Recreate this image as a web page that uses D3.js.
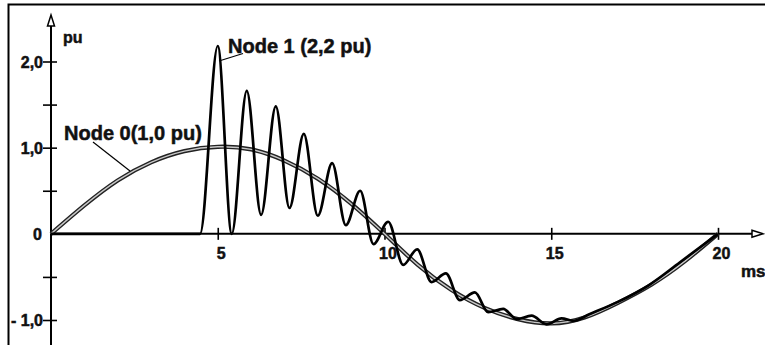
<!DOCTYPE html>
<html>
<head>
<meta charset="utf-8">
<script src="https://cdn.jsdelivr.net/npm/d3@7"></script>
<style>
    body { margin: 0; background: #fff; }
    svg text { font-family: "Liberation Sans", Arial, sans-serif; font-weight: bold; fill: #111;
        stroke: #111; stroke-width: 0.5px; }
</style>
</head>
<body>
<div id="chart"></div>
<script>
// node 0 : the 50 Hz wave (ms, pu)
var node0Ms = [0, 1, 2, 3, 4, 5, 6, 7, 8, 9, 10, 11, 12, 13, 14, 15, 16, 17, 18, 19, 20];
var node0Pu = [0, 0.33, 0.62, 0.83, 0.96, 1.01, 0.98, 0.85, 0.64, 0.35, 0, -0.36, -0.65, -0.86, -0.99, -1.04, -0.97, -0.80, -0.59, -0.32, 0];

// node 1 : switching transient, turning points of the ringing
var node1Ms = [0, 4.47, 5.0, 5.42, 5.87, 6.3, 6.74, 7.15, 7.58, 8.0, 8.43, 8.84, 9.27, 9.67, 10.11,
    10.56, 10.98, 11.41, 11.84, 12.26, 12.71, 13.11, 13.56, 13.96, 14.41, 14.86, 15.31, 15.66,
    16.16, 17.0, 17.91, 18.86, 20];
var node1Pu = [0, 0, 2.18, 0.0, 1.66, 0.22, 1.48, 0.30, 1.16, 0.21, 0.82, 0.10, 0.50, -0.12, 0.14,
    -0.36, -0.18, -0.56, -0.46, -0.77, -0.68, -0.91, -0.87, -0.99, -0.95, -1.05, -0.98, -1.01,
    -0.93, -0.79, -0.60, -0.33, 0];

// axis ticks and labels
var xTicks = [5, 10, 15, 20];
var yMajorTicks = [-1, 1, 2];
var yMinorTicks = [-0.5, 0.5, 1.5];
var yLabels = { "-1": "- 1,0", "0": "0", "1": "1,0", "2": "2,0" };

(function() {

    var width = 765,
        height = 345

    var svg = d3.select("#chart")
        .append("svg")
        .attr("width", width)
        .attr("height", height)

    // scales
    var x = d3.scaleLinear().domain([0, 20]).range([51, 718]);
    var y = d3.scaleLinear().domain([-1, 2]).range([320, 61.5]);

    // frame (only top and left edges are visible)
    svg.append("path")
        .attr("d", "M8.5,345 L8.5,4.5 L765,4.5")
        .attr("fill", "none")
        .attr("stroke", "#000")
        .attr("stroke-width", 2)

    // y axis
    var yAxis = d3.axisLeft(y)
        .tickValues(yMajorTicks.concat(yMinorTicks))
        .tickSize(8)
        .tickFormat(function(d) { return yLabels[d] || ""; })

    var gy = svg.append("g")
        .attr("transform", "translate(" + x(0) + ",0)")
        .call(yAxis)
    gy.select(".domain").remove()
    gy.selectAll(".tick line")
        .attr("x1", 6)
        .attr("stroke", "#000")
        .attr("stroke-width", 1.6)
    gy.selectAll(".tick text")
        .attr("x", -8)
        .attr("dy", "0.36em")
        .style("font-size", "16px")

    // zero label sits on the x axis
    svg.append("text")
        .attr("x", x(0) - 9)
        .attr("y", y(0))
        .attr("dy", "0.36em")
        .attr("text-anchor", "end")
        .style("font-size", "16px")
        .text(yLabels["0"])

    // x axis
    var xAxis = d3.axisBottom(x)
        .tickValues(xTicks)
        .tickSize(6)
        .tickFormat(d3.format("d"))

    var gx = svg.append("g")
        .attr("transform", "translate(0," + y(0) + ")")
        .call(xAxis)
    gx.select(".domain").remove()
    gx.selectAll(".tick line")
        .attr("y1", -6)
        .attr("stroke", "#000")
        .attr("stroke-width", 1.6)
    gx.selectAll(".tick text")
        .attr("y", 14)
        .attr("dy", "0.71em")
        .attr("dx", 3)
        .style("font-size", "16px")

    // axis lines with hollow arrow heads
    svg.append("line")
        .attr("x1", x(0)).attr("x2", x(0))
        .attr("y1", height).attr("y2", 25)
        .attr("stroke", "#000").attr("stroke-width", 2)
    svg.append("path")
        .attr("d", "M" + (x(0) - 3.5) + ",26 L" + x(0) + ",15 L" + (x(0) + 3.5) + ",26 Z")
        .attr("fill", "#fff").attr("stroke", "#000").attr("stroke-width", 1.5)

    svg.append("line")
        .attr("x1", x(0)).attr("x2", 752)
        .attr("y1", y(0)).attr("y2", y(0))
        .attr("stroke", "#000").attr("stroke-width", 2)
    svg.append("path")
        .attr("d", "M752," + (y(0) - 3.5) + " L763," + y(0) + " L752," + (y(0) + 3.5) + " Z")
        .attr("fill", "#fff").attr("stroke", "#000").attr("stroke-width", 1.5)

    // unit labels
    svg.append("text").attr("x", 63).attr("y", 43).style("font-size", "16px").text("pu")
    svg.append("text").attr("x", 741).attr("y", 277).style("font-size", "17px").text("ms")

    // node 0 : double line
    var node0 = node0Ms.map(function(t, i) { return [t, node0Pu[i]]; });
    var line0 = d3.line()
        .x(function(d) { return x(d[0]); })
        .y(function(d) { return y(d[1]); })
        .curve(d3.curveNatural)

    svg.append("path")
        .datum(node0)
        .attr("d", line0)
        .attr("fill", "none")
        .attr("stroke", "#222")
        .attr("stroke-width", 4.2)
    svg.append("path")
        .datum(node0)
        .attr("d", line0)
        .attr("fill", "none")
        .attr("stroke", "#c8c8c8")
        .attr("stroke-width", 1.4)

    // node 1 : ringing wave
    var node1 = node1Ms.map(function(t, i) { return [t, node1Pu[i]]; });
    var line1 = d3.line()
        .x(function(d) { return x(d[0]); })
        .y(function(d) { return y(d[1]); })
        .curve(d3.curveMonotoneX)

    svg.append("path")
        .datum(node1)
        .attr("d", line1)
        .attr("fill", "none")
        .attr("stroke", "#000")
        .attr("stroke-width", 2.7)
        .attr("stroke-linejoin", "round")

    // annotations with leader lines
    svg.append("line")
        .attr("x1", 219).attr("y1", 61).attr("x2", 243).attr("y2", 53.5)
        .attr("stroke", "#000").attr("stroke-width", 1.2)
    svg.append("text")
        .attr("x", 228).attr("y", 52.5)
        .style("font-size", "20px")
        .text("Node 1 (2,2 pu)")

    svg.append("line")
        .attr("x1", 93).attr("y1", 142).attr("x2", 130).attr("y2", 171)
        .attr("stroke", "#000").attr("stroke-width", 1.2)
    svg.append("text")
        .attr("x", 64).attr("y", 139.5)
        .style("font-size", "20px")
        .text("Node 0(1,0 pu)")

})();
</script>
</body>
</html>
